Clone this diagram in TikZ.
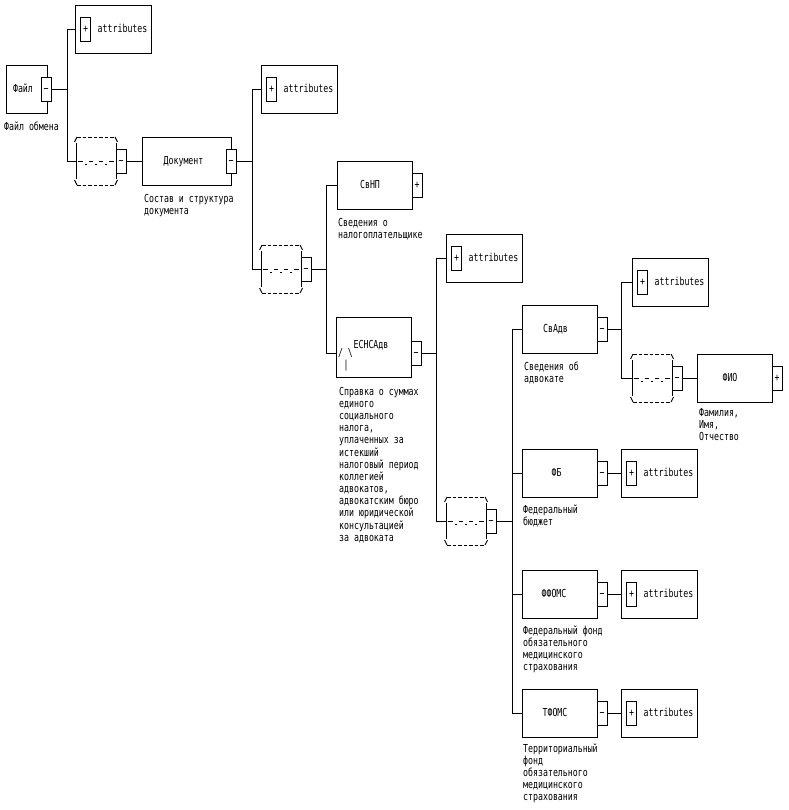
\documentclass[tikz,border=0pt]{standalone}
\usepackage{fontspec}
\newfontfamily\dfont[FakeStretch=0.75]{DejaVu Sans Mono}
\newcommand\df{\dfont\fontsize{11}{12}\selectfont}
\tikzset{
  ln/.style={line width=0.9pt},
  elbox/.style={draw, line width=0.9pt, inner sep=0pt, minimum width=75pt, minimum height=48pt},
  btn/.style={draw, fill=white, line width=0.9pt, inner sep=0pt, minimum width=10pt, minimum height=24pt, font=\df, text height=7pt, text depth=0pt},
  txt/.style={inner sep=0pt, font=\df},
  lbltxt/.style={inner sep=0pt, font=\df, anchor=base west},
}
\newcommand\attrs[3]{%
  \node[elbox, minimum width=76pt] (#1) at (#2+38,#3) {};
  \node[btn] (#1btn) at (#2+10.5,#3) {+};
  \node[txt, anchor=base west] (#1t) at (#2+22.5,#3+3.8) {attributes};
}
\newcommand\compo[3]{%
  \node[inner sep=0pt, minimum width=40pt, minimum height=48pt] (#1) at (#2,#3) {};
  \draw[ln, dash pattern=on 3.5pt off 2pt] (#2-19,#3-24) -- (#2+19,#3-24);
  \draw[ln, dash pattern=on 3.5pt off 2pt] (#2-19,#3+24) -- (#2+19,#3+24);
  \draw[ln] (#2-19,#3-24) -- (#2-21.5,#3-19) (#2+19,#3-24) -- (#2+21.5,#3-19);
  \draw[ln] (#2-19,#3+24) -- (#2-21.5,#3+19) (#2+19,#3+24) -- (#2+21.5,#3+19);
  \draw[ln] (#2-20,#3-18) -- (#2-20,#3+18) (#2+20,#3-18) -- (#2+20,#3+18);
  \draw[ln] (#2-18,#3) -- (#2-13,#3) (#2-7,#3) -- (#2-3,#3) (#2+3,#3) -- (#2+7,#3) (#2+13,#3) -- (#2+18,#3);
  \fill (#2-10.8,#3+2.7) rectangle ++(1.6,1.6);
  \fill (#2-0.8,#3+2.7) rectangle ++(1.6,1.6);
  \fill (#2+9.2,#3+2.7) rectangle ++(1.6,1.6);
  \node[btn] (#1btn) at (#2+25,#3) {−};
}
\newcommand\lbl[4]{\node[lbltxt] (#1) at (#2,#3) {\begin{tabular}[t]{@{}l@{}}#4\end{tabular}};}
\begin{document}
\begin{tikzpicture}[x=1pt,y=-1pt]
\fill[white] (0,0) rectangle (788,810);
\useasboundingbox (0,0) rectangle (788,810);

% Файл
\node[elbox, minimum width=41pt] (fajl) at (26.5,89) {};
\node[txt, anchor=base] (fajlt) at (23,92.8) {Файл};
\node[btn] (fajlbtn) at (46,89) {−};
\lbl{fajll}{4}{130.8}{Файл обмена}

\attrs{attr1}{75}{29}
\compo{comp1}{96}{161}

% Документ
\node[elbox, minimum width=89pt] (doc) at (186.5,161) {};
\node[txt, anchor=base] (doct) at (183.5,164.8) {Документ};
\node[btn] (docbtn) at (231,161) {−};
\lbl{docl}{144}{202.8}{Состав и структура\\документа}

\attrs{attr2}{261}{89}
\compo{comp2}{281}{269}

% СвНП
\node[elbox] (svnp) at (374.5,185) {};
\node[txt, anchor=base] (svnpt) at (370,188.8) {СвНП};
\node[btn] (svnpbtn) at (417,185) {+};
\lbl{svnpl}{338}{226.3}{Сведения о\\налогоплательщике}

% ЕСНСАдв
\node[elbox, minimum height=60pt] (esn) at (373.5,347) {};
\node[txt, anchor=base] (esnt) at (371,348.8) {ЕСНСАдв};
\node[txt, anchor=base] (esni1) at (345.5,356.8) {/ \textbackslash};
\node[txt, anchor=base] (esni2) at (346,368.5) {|};
\node[btn] (esnbtn) at (416,353) {−};
\lbl{esnl}{339}{395.8}{Справка о суммах\\единого\\социального\\налога,\\уплаченных за\\истекший\\налоговый период\\коллегией\\адвокатов,\\адвокатским бюро\\или юридической\\консультацией\\за адвоката}

\attrs{attr3}{446}{258}
\compo{comp3}{466}{521}

% СвАдв
\node[elbox] (svadv) at (559.5,329) {};
\node[txt, anchor=base] (svadvt) at (555.5,332.8) {СвАдв};
\node[btn] (svadvbtn) at (602,329) {−};
\lbl{svadvl}{524}{370.8}{Сведения об\\адвокате}

\attrs{attr4}{632}{282}
\compo{comp4}{652}{378}

% ФИО
\node[elbox] (fio) at (734.5,378) {};
\node[txt, anchor=base] (fiot) at (730,381.8) {ФИО};
\node[btn] (fiobtn) at (777,378) {+};
\lbl{fiol}{699}{416.8}{Фамилия,\\Имя,\\Отчество}

% ФБ
\node[elbox] (fb) at (559.5,473) {};
\node[txt, anchor=base] (fbt) at (556.5,476.8) {ФБ};
\node[btn] (fbbtn) at (602,473) {−};
\attrs{attr5}{621}{473}
\lbl{fbl}{523}{513.8}{Федеральный\\бюджет}

% ФФОМС
\node[elbox] (ffoms) at (559.5,594) {};
\node[txt, anchor=base] (ffomst) at (554,597.8) {ФФОМС};
\node[btn] (ffomsbtn) at (602,594) {−};
\attrs{attr6}{621}{594}
\lbl{ffomsl}{523}{634.8}{Федеральный фонд\\обязательного\\медицинского\\страхования}

% ТФОМС
\node[elbox] (tfoms) at (559.5,713) {};
\node[txt, anchor=base] (tfomst) at (555,716.8) {ТФОМС};
\node[btn] (tfomsbtn) at (602,713) {−};
\attrs{attr7}{621}{713}
\lbl{tfomsl}{523}{752.8}{Территориальный\\фонд\\обязательного\\медицинского\\страхования}

% connectors
\draw[ln] (fajlbtn.east) -- ++(16,0) coordinate (j1) |- (attr1.west);
\draw[ln] (j1) |- (comp1.west);
\draw[ln] (comp1btn.east) -- (doc.west);
\draw[ln] (docbtn.east) -- ++(16,0) coordinate (j2) |- (attr2.west);
\draw[ln] (j2) |- (comp2.west);
\draw[ln] (comp2btn.east) -- ++(15,0) coordinate (j3) |- (svnp.west);
\draw[ln] (j3) |- (esnbtn.west -| esn.west);
\draw[ln] (esnbtn.east) -- ++(15,0) coordinate (j4) |- (attr3.west);
\draw[ln] (j4) |- (comp3.west);
\draw[ln] (comp3btn.east) -- ++(16,0) coordinate (j5) |- (svadv.west);
\draw[ln] (j5) |- (fb.west);
\draw[ln] (j5) |- (ffoms.west);
\draw[ln] (j5) |- (tfoms.west);
\draw[ln] (svadvbtn.east) -- ++(14,0) coordinate (j6) |- (attr4.west);
\draw[ln] (j6) |- (comp4.west);
\draw[ln] (comp4btn.east) -- (fio.west);
\draw[ln] (fbbtn.east) -- (attr5.west);
\draw[ln] (ffomsbtn.east) -- (attr6.west);
\draw[ln] (tfomsbtn.east) -- (attr7.west);
\end{tikzpicture}
\end{document}
